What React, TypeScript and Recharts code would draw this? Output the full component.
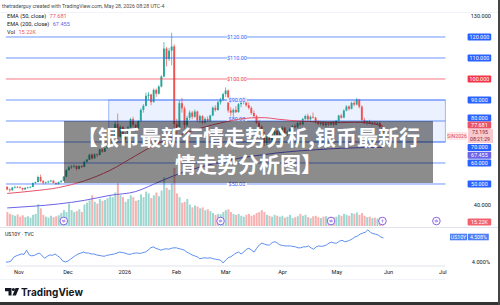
import React from "react";
import {
  ComposedChart, LineChart, Bar, Line, XAxis, YAxis, Cell,
  ReferenceLine, ReferenceArea, ReferenceDot,
} from "recharts";

// daily bars, Oct 27 2025 .. May 28 2026 (index 0..146), empty slots to the right up to Jul
const OPEN = [
  48.6, 47.4, 47.0, 48.3, 48.6,
  48.4, 48.1, 47.4, 48.2, 48.3, 48.6, 50.5, 50.9, 53.3, 51.4, 50.6, 50.8, 51.2, 51.6, 50.5, 49.9, 50.9, 51.5, 53.5,
  56.6, 57.9, 58.3, 58.6, 57.2, 58.5, 58.1, 60.6, 61.6, 63.9, 62.2, 64.1, 63.8, 66.5, 65.4, 67.0, 69.1, 71.6, 72.2, 78.5, 72.5, 77.2,
  71.2, 73.8, 77.0, 80.9, 78.2, 76.5, 80.0, 85.3, 87.2, 92.0, 92.6, 89.0, 94.8, 93.0, 96.4, 101.2, 114.5, 109.5, 113.5, 115.5,
  78.5, 76.8, 88.5, 86.0, 78.0, 81.5, 84.0, 82.0, 84.5, 80.2, 82.3, 79.3, 81.0, 80.0, 82.6, 86.3, 85.2, 88.9, 90.2,
  92.8, 94.5, 85.0, 84.0, 85.3, 84.2, 88.0, 88.8, 90.3, 87.5, 86.2, 83.8, 82.3, 79.2, 77.3, 73.5, 69.5, 72.0, 70.8, 73.8, 75.2, 73.4,
  75.9, 76.8, 74.2, 74.9, 76.2, 77.5, 77.0, 79.1, 78.4, 81.0, 82.4, 80.8, 82.0, 81.6, 79.4, 78.6, 79.2, 78.0, 78.9, 78.3, 79.4,
  78.2, 80.1, 82.6, 81.6, 85.0, 86.9, 85.8, 88.6, 87.8, 90.2, 86.8, 80.5, 79.2, 79.8, 78.9, 79.3, 78.7, 79.1, 77.2,
];
const HIGH = [
  49.0, 47.9, 48.6, 49.2, 49.0,
  48.9, 48.3, 48.4, 48.7, 48.9, 50.7, 51.2, 54.0, 54.5, 51.9, 51.2, 51.6, 52.0, 51.8, 50.8, 51.2, 51.8, 53.8, 57.0,
  58.7, 59.0, 59.3, 58.9, 58.9, 58.9, 61.0, 62.0, 64.4, 64.7, 64.6, 64.5, 66.8, 67.0, 67.3, 69.5, 72.0, 72.8, 80.0, 83.5, 78.0, 77.5,
  74.5, 77.5, 81.5, 82.0, 78.8, 80.4, 86.0, 88.0, 93.5, 93.8, 93.0, 95.5, 95.5, 97.0, 101.8, 117.6, 115.2, 114.8, 122.0, 116.5,
  81.0, 89.8, 91.0, 87.0, 82.5, 85.0, 84.8, 85.5, 85.0, 83.0, 82.8, 81.8, 82.2, 83.0, 87.0, 87.5, 89.5, 91.0, 93.5,
  96.0, 95.0, 86.5, 86.0, 87.0, 88.5, 89.8, 91.2, 90.8, 88.8, 87.0, 85.0, 83.0, 80.5, 78.0, 75.0, 72.8, 73.5, 74.5, 76.0, 75.8, 76.5,
  77.5, 77.3, 75.5, 76.8, 78.0, 78.6, 79.5, 80.2, 81.5, 83.0, 83.5, 82.6, 84.0, 82.0, 80.3, 79.8, 79.8, 79.4, 79.5, 79.8, 80.0,
  80.5, 83.0, 83.4, 85.5, 87.5, 87.4, 89.2, 89.5, 91.0, 90.5, 87.5, 81.5, 80.3, 80.6, 79.8, 80.0, 79.6, 79.8, 77.6,
];
const LOW = [
  47.0, 46.3, 46.8, 47.9, 48.0,
  47.8, 46.9, 47.2, 47.8, 48.0, 48.5, 50.1, 50.8, 50.8, 49.8, 49.9, 50.3, 50.9, 50.2, 49.5, 49.7, 50.6, 51.3, 53.3,
  56.4, 57.2, 57.8, 56.5, 57.0, 57.6, 58.0, 60.2, 61.4, 61.6, 62.0, 62.8, 63.6, 64.9, 65.2, 66.9, 68.9, 70.9, 72.0, 70.2, 72.0, 70.0,
  70.5, 73.5, 76.6, 77.0, 75.0, 76.3, 79.8, 84.0, 87.0, 89.8, 87.5, 88.8, 91.5, 92.6, 96.0, 100.8, 106.0, 108.5, 106.5, 74.0,
  71.5, 76.5, 84.0, 76.5, 70.5, 80.5, 80.8, 81.5, 79.5, 79.0, 78.5, 78.8, 79.5, 79.6, 82.3, 84.5, 85.0, 87.8, 89.5,
  91.5, 84.0, 82.5, 82.0, 83.8, 84.0, 86.5, 88.0, 86.8, 85.5, 83.0, 81.5, 78.5, 76.5, 72.5, 68.0, 68.5, 69.8, 70.2, 72.8, 72.5, 73.0,
  74.5, 73.5, 72.8, 74.3, 75.6, 76.5, 76.8, 77.8, 78.0, 80.2, 80.0, 80.1, 81.2, 78.8, 78.0, 77.8, 77.5, 77.2, 77.6, 77.9, 77.6,
  78.0, 79.7, 81.0, 81.3, 84.6, 85.0, 85.5, 87.0, 87.5, 86.0, 79.8, 78.6, 78.2, 78.5, 77.8, 78.3, 77.9, 76.5, 72.8,
];
const CLOSE = [
  47.4, 47.0, 48.3, 48.6, 48.4,
  48.1, 47.4, 48.2, 48.3, 48.6, 50.5, 50.9, 53.3, 51.4, 50.6, 50.8, 51.2, 51.6, 50.5, 49.9, 50.9, 51.5, 53.5, 56.6,
  57.9, 58.3, 58.6, 57.2, 58.5, 58.1, 60.6, 61.6, 63.9, 62.2, 64.1, 63.8, 66.5, 65.4, 67.0, 69.1, 71.6, 72.2, 78.5, 72.5, 77.2, 71.2,
  73.8, 77.0, 80.9, 78.2, 76.5, 80.0, 85.3, 87.2, 92.0, 92.6, 89.0, 94.8, 93.0, 96.4, 101.2, 114.5, 109.5, 113.5, 115.5, 78.5,
  76.8, 88.5, 86.0, 78.0, 81.5, 84.0, 82.0, 84.5, 80.2, 82.3, 79.3, 81.0, 80.0, 82.6, 86.3, 85.2, 88.9, 90.2, 92.8,
  94.5, 85.0, 84.0, 85.3, 84.2, 88.0, 88.8, 90.3, 87.5, 86.2, 83.8, 82.3, 79.2, 77.3, 73.5, 69.5, 72.0, 70.8, 73.8, 75.2, 73.4, 75.9,
  76.8, 74.2, 74.9, 76.2, 77.5, 77.0, 79.1, 78.4, 81.0, 82.4, 80.8, 82.0, 81.6, 79.4, 78.6, 79.2, 78.0, 78.9, 78.3, 79.4, 78.2,
  80.1, 82.6, 81.6, 85.0, 86.9, 85.8, 88.6, 87.8, 90.2, 86.8, 80.5, 79.2, 79.8, 78.9, 79.3, 78.7, 79.1, 77.2, 73.2,
];
// thousands
const VOLUME = [
  30, 26, 24, 22, 25,
  20, 23, 19, 21, 18, 24, 26, 47, 38, 24, 20, 18, 22, 19, 21, 23, 28, 34, 30,
  48, 34, 30, 32, 36, 30, 46, 50, 55, 66, 52, 48, 58, 54, 56, 60, 64, 62, 72, 92, 66, 62,
  52, 58, 66, 62, 54, 56, 68, 62, 74, 70, 60, 66, 72, 64, 76, 105, 82, 78, 92, 125,
  70, 62, 50, 52, 58, 46, 40, 44, 42, 38, 40, 34, 36, 32, 28, 24, 26, 25, 30,
  34, 36, 30, 26, 24, 26, 22, 20, 24, 26, 22, 24, 28, 30, 34, 30, 24, 22, 20, 24, 22, 20,
  22, 18, 20, 24, 17, 19, 21, 26, 22, 24, 19, 17, 21, 22, 19, 17, 20, 21, 18, 20, 19,
  20, 24, 22, 26, 24, 22, 28, 26, 29, 24, 28, 22, 19, 20, 17, 18, 16, 18, 15.22,
];
const US10Y = [
  4.0, 4.0, 4.02, 4.1, 4.13,
  4.15, 4.17, 4.16, 4.25, 4.15, 4.13, 4.14, 4.17, 4.19, 4.13, 4.08, 4.12, 4.15, 4.14, 4.17, 4.13, 4.09, 4.02, 4.0,
  4.02, 4.06, 4.1, 4.14, 4.17, 4.19, 4.21, 4.19, 4.19, 4.17, 4.17, 4.15, 4.14, 4.13, 4.12, 4.14, 4.15, 4.16, 4.17, 4.19, 4.21, 4.2,
  4.19, 4.17, 4.16, 4.18, 4.19, 4.19, 4.18, 4.2, 4.21, 4.25, 4.3, 4.32, 4.29, 4.27, 4.25, 4.27, 4.28, 4.27, 4.29, 4.3,
  4.3, 4.28, 4.27, 4.25, 4.21, 4.18, 4.15, 4.13, 4.11, 4.07, 4.08, 4.09, 4.08, 4.09, 4.07, 4.06, 4.05, 4.04, 3.98,
  4.04, 4.09, 4.11, 4.15, 4.19, 4.21, 4.17, 4.21, 4.27, 4.29, 4.25, 4.21, 4.29, 4.36, 4.4, 4.38, 4.36, 4.36, 4.41, 4.43, 4.4, 4.36,
  4.35, 4.34, 4.34, 4.34, 4.33, 4.32, 4.3, 4.3, 4.32, 4.32, 4.34, 4.3, 4.27, 4.32, 4.34, 4.33, 4.34, 4.36, 4.4, 4.42, 4.4,
  4.4, 4.44, 4.46, 4.43, 4.44, 4.46, 4.49, 4.53, 4.55, 4.59, 4.61, 4.63, 4.68, 4.63, 4.6, 4.59, 4.57, 4.53, 4.508,
];

// EMA readings taken every few bars
const EMA_IDX = [0, 10, 20, 30, 40, 50, 55, 60, 65, 70, 75, 80, 85, 90, 95, 100, 105, 110, 115, 120, 125, 130, 135, 140, 146];
const EMA50 = [45.5, 46.7, 48.3, 51.5, 56.5, 63.5, 67.0, 70.0, 72.5, 74.5, 76.5, 78.2, 79.6, 80.8, 81.5, 81.6, 80.9, 80.3, 79.9, 79.6, 79.3, 79.2, 79.4, 79.1, 77.681];
const EMA200 = [38.6, 39.4, 40.5, 42.2, 44.6, 46.4, 48.8, 51.5, 54.0, 56.2, 58.0, 59.6, 61.0, 62.2, 63.2, 64.0, 64.8, 65.4, 65.9, 66.3, 66.7, 67.0, 67.2, 67.35, 67.455];

const MONTH_TICKS = [5, 24, 46, 66, 85, 107, 128, 148, 169];
const MONTH_LABELS = ["Nov", "Dec", "2026", "Feb", "Mar", "Apr", "May", "Jun", "Jul"];

const LEVELS = [120, 110, 100, 90, 80, 70, 60, 50];
// the $70 / $60 captions sit under the title box in the reference, so they carry no text
const LEVEL_TEXT = ["$120.00", "$110.00", "$100.00", "$90.00", "$80.00", "", "", "$50.00"];
// the price scale pushes crowded tags apart
const LEVEL_SHIFT = [0, 0, 0, 0, -3, 5.5, 0, 0];
const CAPTION_SHIFT = [0, 0, 0, 0, -2, 0, 0, 0];
const PRICE_TICKS = [130, 40];
const EVENT_BARS = [22, 83, 126, 146, 167];
const TITLE_LINES = ["【银币最新行情走势分析,银币最新行", "情走势分析图】"];

const SLOTS = 171;
const PLOT_LEFT = 5.9;
const SCALE_W = 54.6;
const UP = "#26a69a";
const DOWN = "#ef5350";
const BLUE = "#2962ff";
const RED = "#f23645";
const E50_COLOR = "#e8536b";
const E200_COLOR = "#6b63e8";
const FONT = "Roboto, 'Liberation Sans', sans-serif";

const rows = Array.from({ length: SLOTS }, (_, i) => {
  const k = EMA_IDX.indexOf(i);
  return {
    i,
    o: OPEN[i] ?? null,
    h: HIGH[i] ?? null,
    l: LOW[i] ?? null,
    c: CLOSE[i] ?? null,
    vol: VOLUME[i] ?? null,
    us: US10Y[i] ?? null,
    e50: k >= 0 ? EMA50[k] : null,
    e200: k >= 0 ? EMA200[k] : null,
  };
});

function Candle(props: any) {
  const { x, y, width, height, payload } = props;
  if (payload?.o == null || height == null) return null;
  const { o, h, l, c } = payload;
  const top = Math.min(y, y + height);
  const hh = Math.abs(height);
  const py = (v: number) => top + (h === l ? 0 : ((h - v) / (h - l)) * hh);
  const cx = x + width / 2;
  const color = c >= o ? UP : DOWN;
  const b0 = py(Math.max(o, c));
  const b1 = py(Math.min(o, c));
  return (
    <g>
      <line x1={cx} x2={cx} y1={top} y2={top + hh} stroke={color} strokeWidth={0.7} />
      <rect x={cx - 0.95} y={b0} width={1.9} height={Math.max(b1 - b0, 0.6)} fill={color} />
    </g>
  );
}

function badge(text: string, bg: string, fg = "#fff", dy = 0) {
  return ({ viewBox }: any) => {
    const x0 = viewBox.x + viewBox.width + 22.2;
    const y = viewBox.y + dy;
    return (
      <g>
        <rect x={x0} y={y - 3.5} width={23.6} height={7} rx={1} fill={bg} />
        <text x={x0 + 11.8} y={y + 2} textAnchor="middle" fontSize={5.4} fill={fg} fontFamily={FONT}>{text}</text>
      </g>
    );
  };
}

function levelLabel(text: string, color: string, bg: string, badgeText: string, shift: number, capShift: number) {
  return ({ viewBox }: any) => {
    const mid = viewBox.x + 231;
    const y = viewBox.y + capShift;
    const by = viewBox.y + shift;
    const x0 = viewBox.x + viewBox.width + 22.2;
    return (
      <g>
        {text && <rect x={mid - 10} y={viewBox.y - 2.5} width={20} height={5} fill={bg} />}
        {text && <text x={mid} y={y + 2} textAnchor="middle" fontSize={5.4} fill={color} fontFamily={FONT}>{text}</text>}
        <rect x={x0} y={by - 3.5} width={23.6} height={7} rx={1} fill={color} />
        <text x={x0 + 11.8} y={by + 2} textAnchor="middle" fontSize={5.4} fill="#fff" fontFamily={FONT}>{badgeText}</text>
      </g>
    );
  };
}

function PriceTick({ y, payload }: any) {
  return (
    <text x={491} y={y} dy={2} textAnchor="end" fontSize={5.6} fill="#131722" fontFamily={FONT}>
      {payload.value.toFixed(3)}
    </text>
  );
}

function RateTick({ y, payload }: any) {
  return (
    <text x={490} y={y} dy={2} textAnchor="end" fontSize={5.6} fill="#131722" fontFamily={FONT}>
      {payload.value.toFixed(3)}%
    </text>
  );
}

function EventIcon({ cx, cy }: any) {
  return (
    <g>
      <circle cx={cx} cy={cy} r={3.8} fill="#fff" stroke="#8a63e8" strokeWidth={1} />
      <path d={`M${cx - 1.8} ${cy - 0.6} h3 l-0.8 -0.8 M${cx + 1.8} ${cy + 0.6} h-3 l0.8 0.8`} stroke="#8a63e8" strokeWidth={0.7} fill="none" />
    </g>
  );
}

function BoltIcon({ cx, cy }: any) {
  return (
    <g>
      <circle cx={cx} cy={cy} r={3.8} fill="#fff" stroke="#8a63e8" strokeWidth={1} />
      <path d={`M${cx + 0.6} ${cy - 2.4} L${cx - 1.2} ${cy + 0.3} H${cx + 0.2} L${cx - 0.6} ${cy + 2.4} L${cx + 1.3} ${cy - 0.4} H${cx - 0.1} Z`} fill="#8a63e8" />
    </g>
  );
}

const abs = (style: React.CSSProperties): React.CSSProperties => ({ position: "absolute", ...style });

export default function App() {
  const legend = { fontSize: 5.6, fontFamily: FONT, color: "#131722", whiteSpace: "nowrap" as const, lineHeight: "8px" };
  const titleStyle: React.CSSProperties = {
    color: "#fff", fontWeight: 700, fontSize: 21, fontFamily: "'Noto Sans CJK SC', sans-serif",
    lineHeight: "21px", height: 21, width: 369, textAlign: "center", whiteSpace: "nowrap",
  };
  return (
    <div style={abs({ left: 0, top: 0, width: 500, height: 305, background: "#fff", overflow: "hidden" })}>
      {/* volume layer */}
      <div style={abs({ left: 0, top: 0 })}>
        <ComposedChart width={500} height={230} data={rows} margin={{ top: 12, right: SCALE_W, bottom: 4, left: PLOT_LEFT }} barCategoryGap="18%">
          <XAxis dataKey="i" hide />
          <YAxis yAxisId="vol" hide domain={[0, 460]} allowDataOverflow />
          <Bar yAxisId="vol" dataKey="vol" isAnimationActive={false}>
            {rows.map((r) => (
              <Cell key={r.i} fill={r.c != null && r.c >= (r.o ?? 0) ? "rgba(38,166,154,0.45)" : "rgba(239,83,80,0.45)"} />
            ))}
          </Bar>
          <ReferenceLine yAxisId="vol" y={15.22} stroke="none" label={badge("15.22K", "#f0636d", "#fff", 3)} />
          {EVENT_BARS.map((b, k) => (
            <ReferenceDot key={b} yAxisId="vol" x={b} y={10.7} r={4} ifOverflow="visible"
              shape={(p: any) => (k === 3 ? <BoltIcon {...p} /> : <EventIcon {...p} />)} />
          ))}
        </ComposedChart>
      </div>

      {/* price layer */}
      <div style={abs({ left: 0, top: 0 })}>
        <ComposedChart width={500} height={230} data={rows} margin={{ top: 12, right: 0, bottom: 4, left: PLOT_LEFT }} barCategoryGap="10%">
          <XAxis dataKey="i" hide />
          <YAxis orientation="right" width={SCALE_W} domain={[30, 131.9]} allowDataOverflow ticks={PRICE_TICKS}
            interval={0} tick={<PriceTick />} axisLine={false} tickLine={false} />
          <ReferenceArea x1={40} x2={170} y1={70} y2={90} fill={BLUE} fillOpacity={0.09} stroke={BLUE} strokeOpacity={0.55} strokeWidth={0.8} ifOverflow="visible" />
          {LEVELS.map((v, k) => {
            const color = v === 100 ? RED : BLUE;
            const bg = v === 90 || v === 80 ? "#e9eefc" : "#fff";
            return (
              <ReferenceLine key={v} y={v} stroke={color} strokeOpacity={0.75} strokeWidth={0.9}
                label={levelLabel(LEVEL_TEXT[k], color, bg, v.toFixed(3), LEVEL_SHIFT[k], CAPTION_SHIFT[k])} />
            );
          })}
          <Line dataKey="e200" stroke={E200_COLOR} strokeWidth={1} dot={false} connectNulls type="monotone" isAnimationActive={false} />
          <Line dataKey="e50" stroke={E50_COLOR} strokeWidth={1} dot={false} connectNulls type="monotone" isAnimationActive={false} />
          <Bar dataKey={(d: any) => (d.h == null ? null : [d.l, d.h])} shape={<Candle />} isAnimationActive={false} />
          <ReferenceLine y={77.681} stroke="none" label={badge("77.681", E50_COLOR, "#fff", -0.8)} />
          <ReferenceLine y={67.455} stroke="none" label={badge("67.455", E200_COLOR, "#fff", 8)} />
        </ComposedChart>
      </div>

      {/* SIN2026 last-price tag */}
      <div style={abs({ left: 447, top: 131.5, width: 20, height: 8, background: "#fde6e8", color: "#e0485a", fontSize: 5.2, fontFamily: FONT, lineHeight: "8px", textAlign: "center" })}>SIN2026</div>
      <div style={abs({ left: 467.5, top: 128.5, width: 25, height: 14, background: "#f8c9ce", color: "#8a2430", fontSize: 5.2, fontFamily: FONT, lineHeight: "6.5px", textAlign: "center", paddingTop: 0.5, boxSizing: "border-box" })}>
        73.195<br />08:21:29
      </div>

      {/* title overlay */}
      <div style={abs({ left: 64, top: 121, width: 369, height: 62, background: "rgba(0,0,0,0.45)" })}>
        <div style={abs({ left: 0, top: 4.5, ...titleStyle })}>{TITLE_LINES[0]}</div>
        <div style={abs({ left: 0, top: 31.5, ...titleStyle })}>{TITLE_LINES[1]}</div>
      </div>

      {/* header and legend */}
      <div style={abs({ left: 2, top: 2, ...legend, fontSize: 5.2, color: "#4a4a4a" })}>thetraderguy created with TradingView.com, May 28, 2026 08:28 UTC-4</div>
      <div style={abs({ left: 0, top: 11.5, width: 500, height: 0, borderTop: "1px solid #f0f3fa" })} />
      <div style={abs({ left: 7, top: 12, ...legend })}>EMA (50, close) <span style={{ color: E50_COLOR, marginLeft: 2 }}>77.681</span></div>
      <div style={abs({ left: 7, top: 20, ...legend })}>EMA (200, close) <span style={{ color: E200_COLOR, marginLeft: 2 }}>67.455</span></div>
      <div style={abs({ left: 7, top: 28, ...legend })}>Vol <span style={{ color: DOWN, marginLeft: 2 }}>15.22K</span></div>

      {/* pane separator */}
      <div style={abs({ left: 0, top: 226.5, width: 500, height: 0, borderTop: "1px solid #e0e3eb" })} />

      {/* US10Y pane */}
      <div style={abs({ left: 0, top: 227 })}>
        <LineChart width={500} height={53} data={rows} margin={{ top: 0, right: 0, bottom: 0, left: PLOT_LEFT }}>
          <XAxis dataKey="i" ticks={MONTH_TICKS} interval={0} height={14} tickSize={0} tickMargin={4}
            tickFormatter={(v: number) => MONTH_LABELS[MONTH_TICKS.indexOf(v)] ?? ""}
            tick={{ fontSize: 5.6, fill: "#131722", fontFamily: FONT }} axisLine={{ stroke: "#e0e3eb" }} tickLine={false} />
          <YAxis orientation="right" width={SCALE_W} domain={[3.915, 4.741]} allowDataOverflow ticks={[4.0]} interval={0}
            tick={<RateTick />} axisLine={false} tickLine={false} />
          <Line dataKey="us" stroke="#5d8ff0" strokeWidth={1} dot={false} isAnimationActive={false} />
          <ReferenceLine y={4.508} stroke="none" label={({ viewBox }: any) => {
            const r = viewBox.x + viewBox.width;
            const y = viewBox.y - 1;
            return (
              <g fontFamily={FONT} fontSize={5.2}>
                <rect x={r + 4.6} y={y - 3.3} width={17} height={6.6} fill="#4d7ff5" />
                <text x={r + 13.1} y={y + 1.9} textAnchor="middle" fill="#fff">US10Y</text>
                <rect x={r + 22.4} y={y - 3.3} width={21} height={6.6} fill="#4d7ff5" />
                <text x={r + 32.9} y={y + 1.9} textAnchor="middle" fill="#fff">4.508%</text>
              </g>
            );
          }} />
        </LineChart>
      </div>
      <div style={abs({ left: 5, top: 229.5, ...legend, fontSize: 5.2 })}>US10Y · TVC</div>
      <div style={abs({ left: 0, top: 279, width: 445, height: 0, borderTop: "1px solid #f0f3fa" })} />

      {/* footer logo */}
      <svg style={abs({ left: 4, top: 286 })} width={90} height={12}>
        <path d="M1 2 h6.5 v7.5 h-3 v-4.3 h-3.5 z" fill="#131722" />
        <circle cx={9.4} cy={3.6} r={1.5} fill="#131722" />
        <path d="M11.5 2 h3.6 l-3.2 7.5 h-3.4 z" fill="#131722" />
        <text x={17} y={9.5} fontSize={10} fontWeight={700} fill="#131722" fontFamily="Inter, 'Open Sans', sans-serif">TradingView</text>
      </svg>

      {/* screenshot frame */}
      <div style={abs({ left: 0, top: 302, width: 500, height: 3, background: "#333" })} />
      <div style={abs({ left: 498, top: 0, width: 2, height: 305, background: "#444" })} />
    </div>
  );
}
